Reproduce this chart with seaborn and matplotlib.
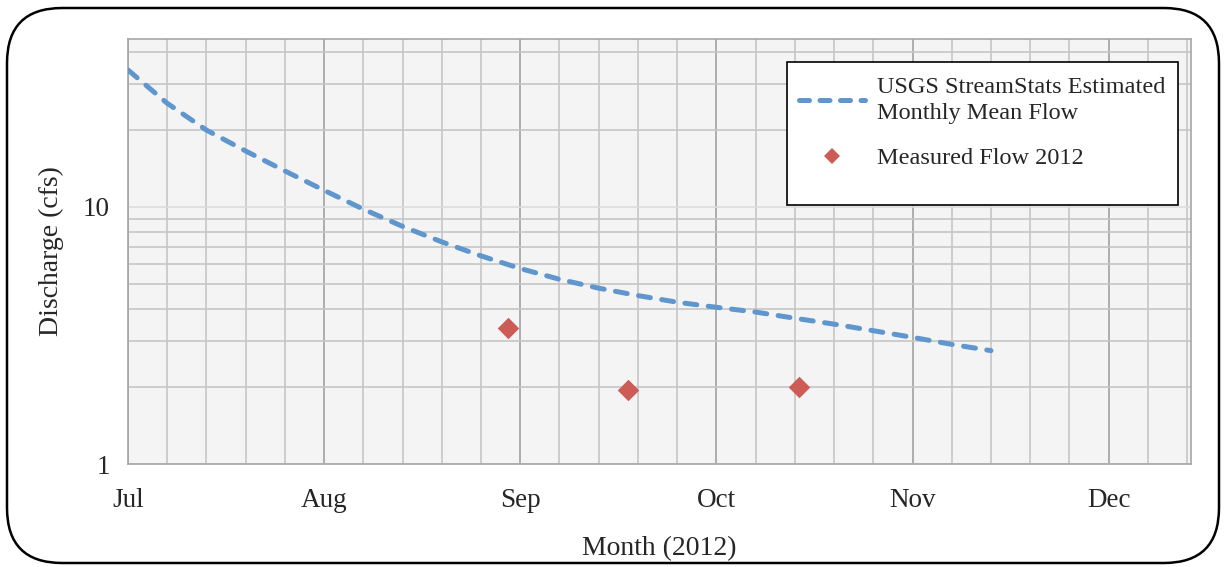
import numpy as np
import pandas as pd
import matplotlib
matplotlib.use("Agg")
import matplotlib.pyplot as plt
from matplotlib.patches import FancyBboxPatch, Rectangle
from matplotlib.ticker import FixedLocator, NullFormatter, FixedFormatter
from matplotlib.lines import Line2D
import seaborn as sns

# ---- data (x in months after 1 Jul 2012) ----
est_month = [0.0, 0.2, 0.4, 0.6, 0.8, 1.0, 1.2, 1.4, 1.6, 1.8, 2.0, 2.2, 2.4,
             2.6, 2.8, 3.0, 3.2, 3.4, 3.6, 3.8, 4.0, 4.2, 4.4]
est_flow = [34.1, 25.3, 19.9, 16.5, 13.8, 11.6, 9.8, 8.4, 7.31, 6.45, 5.76, 5.23,
            4.83, 4.52, 4.26, 4.07, 3.90, 3.69, 3.50, 3.30, 3.11, 2.92, 2.76]
meas_month = [1.94, 2.55, 3.42]
meas_flow = [3.39, 1.94, 2.00]
month_labels = ["Jul", "Aug", "Sep", "Oct", "Nov", "Dec"]

est_df = pd.DataFrame({"month": est_month, "flow": est_flow})
meas_df = pd.DataFrame({"month": meas_month, "flow": meas_flow})

sns.set_theme(style="white")
plt.rcParams["font.family"] = ["Liberation Serif", "DejaVu Serif"]

W, H = 1226, 567
fig = plt.figure(figsize=(W / 100, H / 100), dpi=100)
ax = fig.add_axes([128 / W, 1 - 464 / H, (1191 - 128) / W, (464 - 39) / H])

line_color = "#5e96cd"
pt_color = "#cd5c57"
LW = 3.6
DASH = (2.4, 2.3)

sns.lineplot(data=est_df, x="month", y="flow", ax=ax, color=line_color,
             linewidth=LW, zorder=4, legend=False)
ln = ax.lines[-1]
ln.set_dashes(DASH)
ln.set_dash_capstyle("round")

sns.scatterplot(data=meas_df, x="month", y="flow", ax=ax, marker="D",
                color=pt_color, s=120, linewidth=0, zorder=5, legend=False)

ax.set_yscale("log")
ax.set_ylim(1, 45)
ax.set_xlim(0, 5.42)

ax.set_facecolor("#f4f4f4")
ax.xaxis.set_major_locator(FixedLocator(range(len(month_labels))))
ax.xaxis.set_major_formatter(FixedFormatter(month_labels))
ax.xaxis.set_minor_locator(FixedLocator([i * 0.2 for i in range(28) if i % 5 != 0]))
ax.yaxis.set_major_locator(FixedLocator([1, 10]))
ax.yaxis.set_major_formatter(FixedFormatter(["1", "10"]))
ax.yaxis.set_minor_locator(FixedLocator([2, 3, 4, 5, 6, 7, 8, 9, 20, 30, 40]))
ax.yaxis.set_minor_formatter(NullFormatter())

ax.grid(which="minor", color="#c6c6c6", linewidth=1.2)
ax.grid(which="major", axis="x", color="#a0a0a0", linewidth=1.2)
ax.grid(which="major", axis="y", color="#dcdcdc", linewidth=1.2)
ax.set_axisbelow(True)

for s in ax.spines.values():
    s.set_color("#a6a6a6")
    s.set_linewidth(1.2)

ax.tick_params(axis="both", which="major", direction="out", length=7,
               width=1.2, color="#a0a0a0", labelsize=19.5, pad=6)
ax.tick_params(axis="both", which="minor", length=0)
ax.tick_params(axis="x", which="major", pad=10)

ax.set_xlabel("Month (2012)", fontsize=20, labelpad=17)
ax.set_ylabel("Discharge (cfs)", fontsize=20, labelpad=14)

# legend frame drawn as a rectangle (Excel-style box with extra bottom room)
frame = Rectangle((0.62, 0.609), 0.368, 0.337, transform=ax.transAxes,
                  facecolor="white", edgecolor="black", linewidth=1.2, zorder=6)
ax.add_patch(frame)

handles = [Line2D([], [], color=line_color, linewidth=LW, dashes=(2.0, 2.1),
                  dash_capstyle="round"),
           Line2D([], [], marker="D", color=pt_color, linestyle="none",
                  markersize=8.5, markeredgewidth=0)]
leg = ax.legend(handles, ["USGS StreamStats Estimated\nMonthly Mean Flow",
                          "Measured Flow 2012"],
                loc="upper left", bbox_to_anchor=(0.6312, 0.91), fontsize=17.5,
                frameon=False, handlelength=2.7, handletextpad=0.5,
                borderpad=0, labelspacing=0.95, borderaxespad=0)
leg.get_texts()[0].set_linespacing(1.3)
leg.set_zorder(7)

# outer rounded border
box = FancyBboxPatch((7 / W, 4 / H), (W - 14) / W, (H - 12) / H,
                     boxstyle="round,pad=0,rounding_size=0.045",
                     transform=fig.transFigure, fill=False, edgecolor="black",
                     linewidth=1.8, mutation_aspect=W / H)
fig.patches.append(box)

fig.savefig("out.png", dpi=100)
